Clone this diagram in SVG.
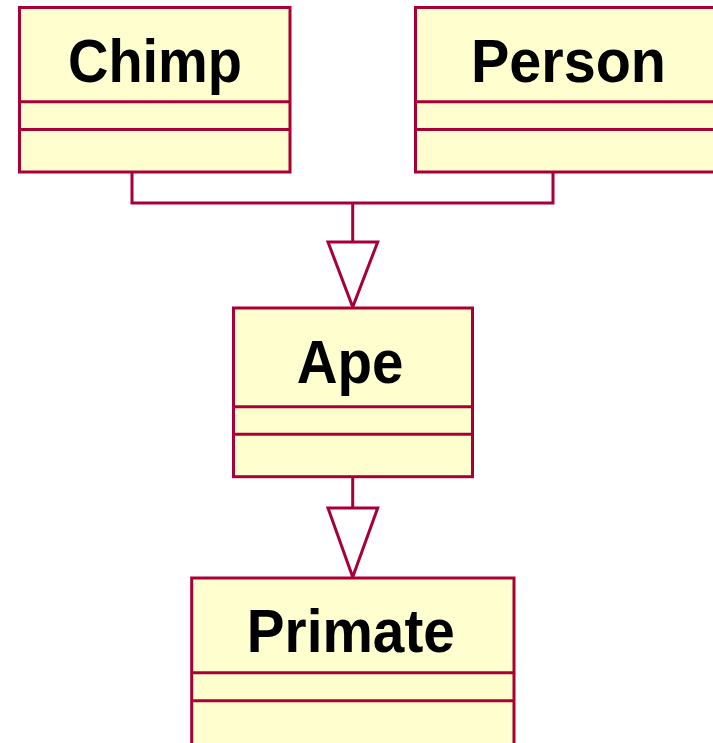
<svg xmlns="http://www.w3.org/2000/svg" width="713" height="743" viewBox="0 0 713 743">
<style>
.box{fill:#FEFECE;stroke:#A80036;stroke-width:3}
.div{stroke:#A80036;stroke-width:3}
.lbl{font-family:"Liberation Sans",Arial,sans-serif;font-weight:bold;font-size:62px;fill:#000;text-anchor:middle}
.edge{fill:none;stroke:#A80036;stroke-width:3}
.head{fill:#FFFFFF;stroke:#A80036;stroke-width:3;stroke-linejoin:miter}
</style>
<rect width="713" height="743" fill="#FFFFFF"/>
<g id="connectors">
<polyline class="edge" points="132,172 132,203 553,203 553,172"/>
<line class="edge" x1="352.7" y1="203" x2="352.7" y2="242"/>
<polygon class="head" points="328,242 377.7,242 352.7,307"/>
<line class="edge" x1="352.7" y1="477" x2="352.7" y2="508"/>
<polygon class="head" points="328,508 377.7,508 352.7,577"/>
</g>
<g id="chimp">
<rect class="box" x="19.5" y="7.5" width="270.5" height="164.5"/>
<line class="div" x1="19.5" y1="101.7" x2="290" y2="101.7"/>
<line class="div" x1="19.5" y1="129.5" x2="290" y2="129.5"/>
<text class="lbl" x="155" y="81.7" textLength="174" lengthAdjust="spacingAndGlyphs">Chimp</text>
</g>
<g id="person">
<rect class="box" x="415.5" y="7.5" width="307" height="164.5"/>
<line class="div" x1="415.5" y1="101.7" x2="722.5" y2="101.7"/>
<line class="div" x1="415.5" y1="129.5" x2="722.5" y2="129.5"/>
<text class="lbl" x="568.5" y="81.7" textLength="195" lengthAdjust="spacingAndGlyphs">Person</text>
</g>
<g id="ape">
<rect class="box" x="233.5" y="308" width="239" height="168.7"/>
<line class="div" x1="233.5" y1="406.7" x2="472.5" y2="406.7"/>
<line class="div" x1="233.5" y1="434.3" x2="472.5" y2="434.3"/>
<text class="lbl" x="350" y="382.7" textLength="106.7" lengthAdjust="spacingAndGlyphs">Ape</text>
</g>
<g id="primate">
<rect class="box" x="191.7" y="578" width="322.3" height="180"/>
<line class="div" x1="191.7" y1="672.7" x2="514" y2="672.7"/>
<line class="div" x1="191.7" y1="700.7" x2="514" y2="700.7"/>
<text class="lbl" x="350.8" y="652.3" textLength="208" lengthAdjust="spacingAndGlyphs">Primate</text>
</g>
</svg>
